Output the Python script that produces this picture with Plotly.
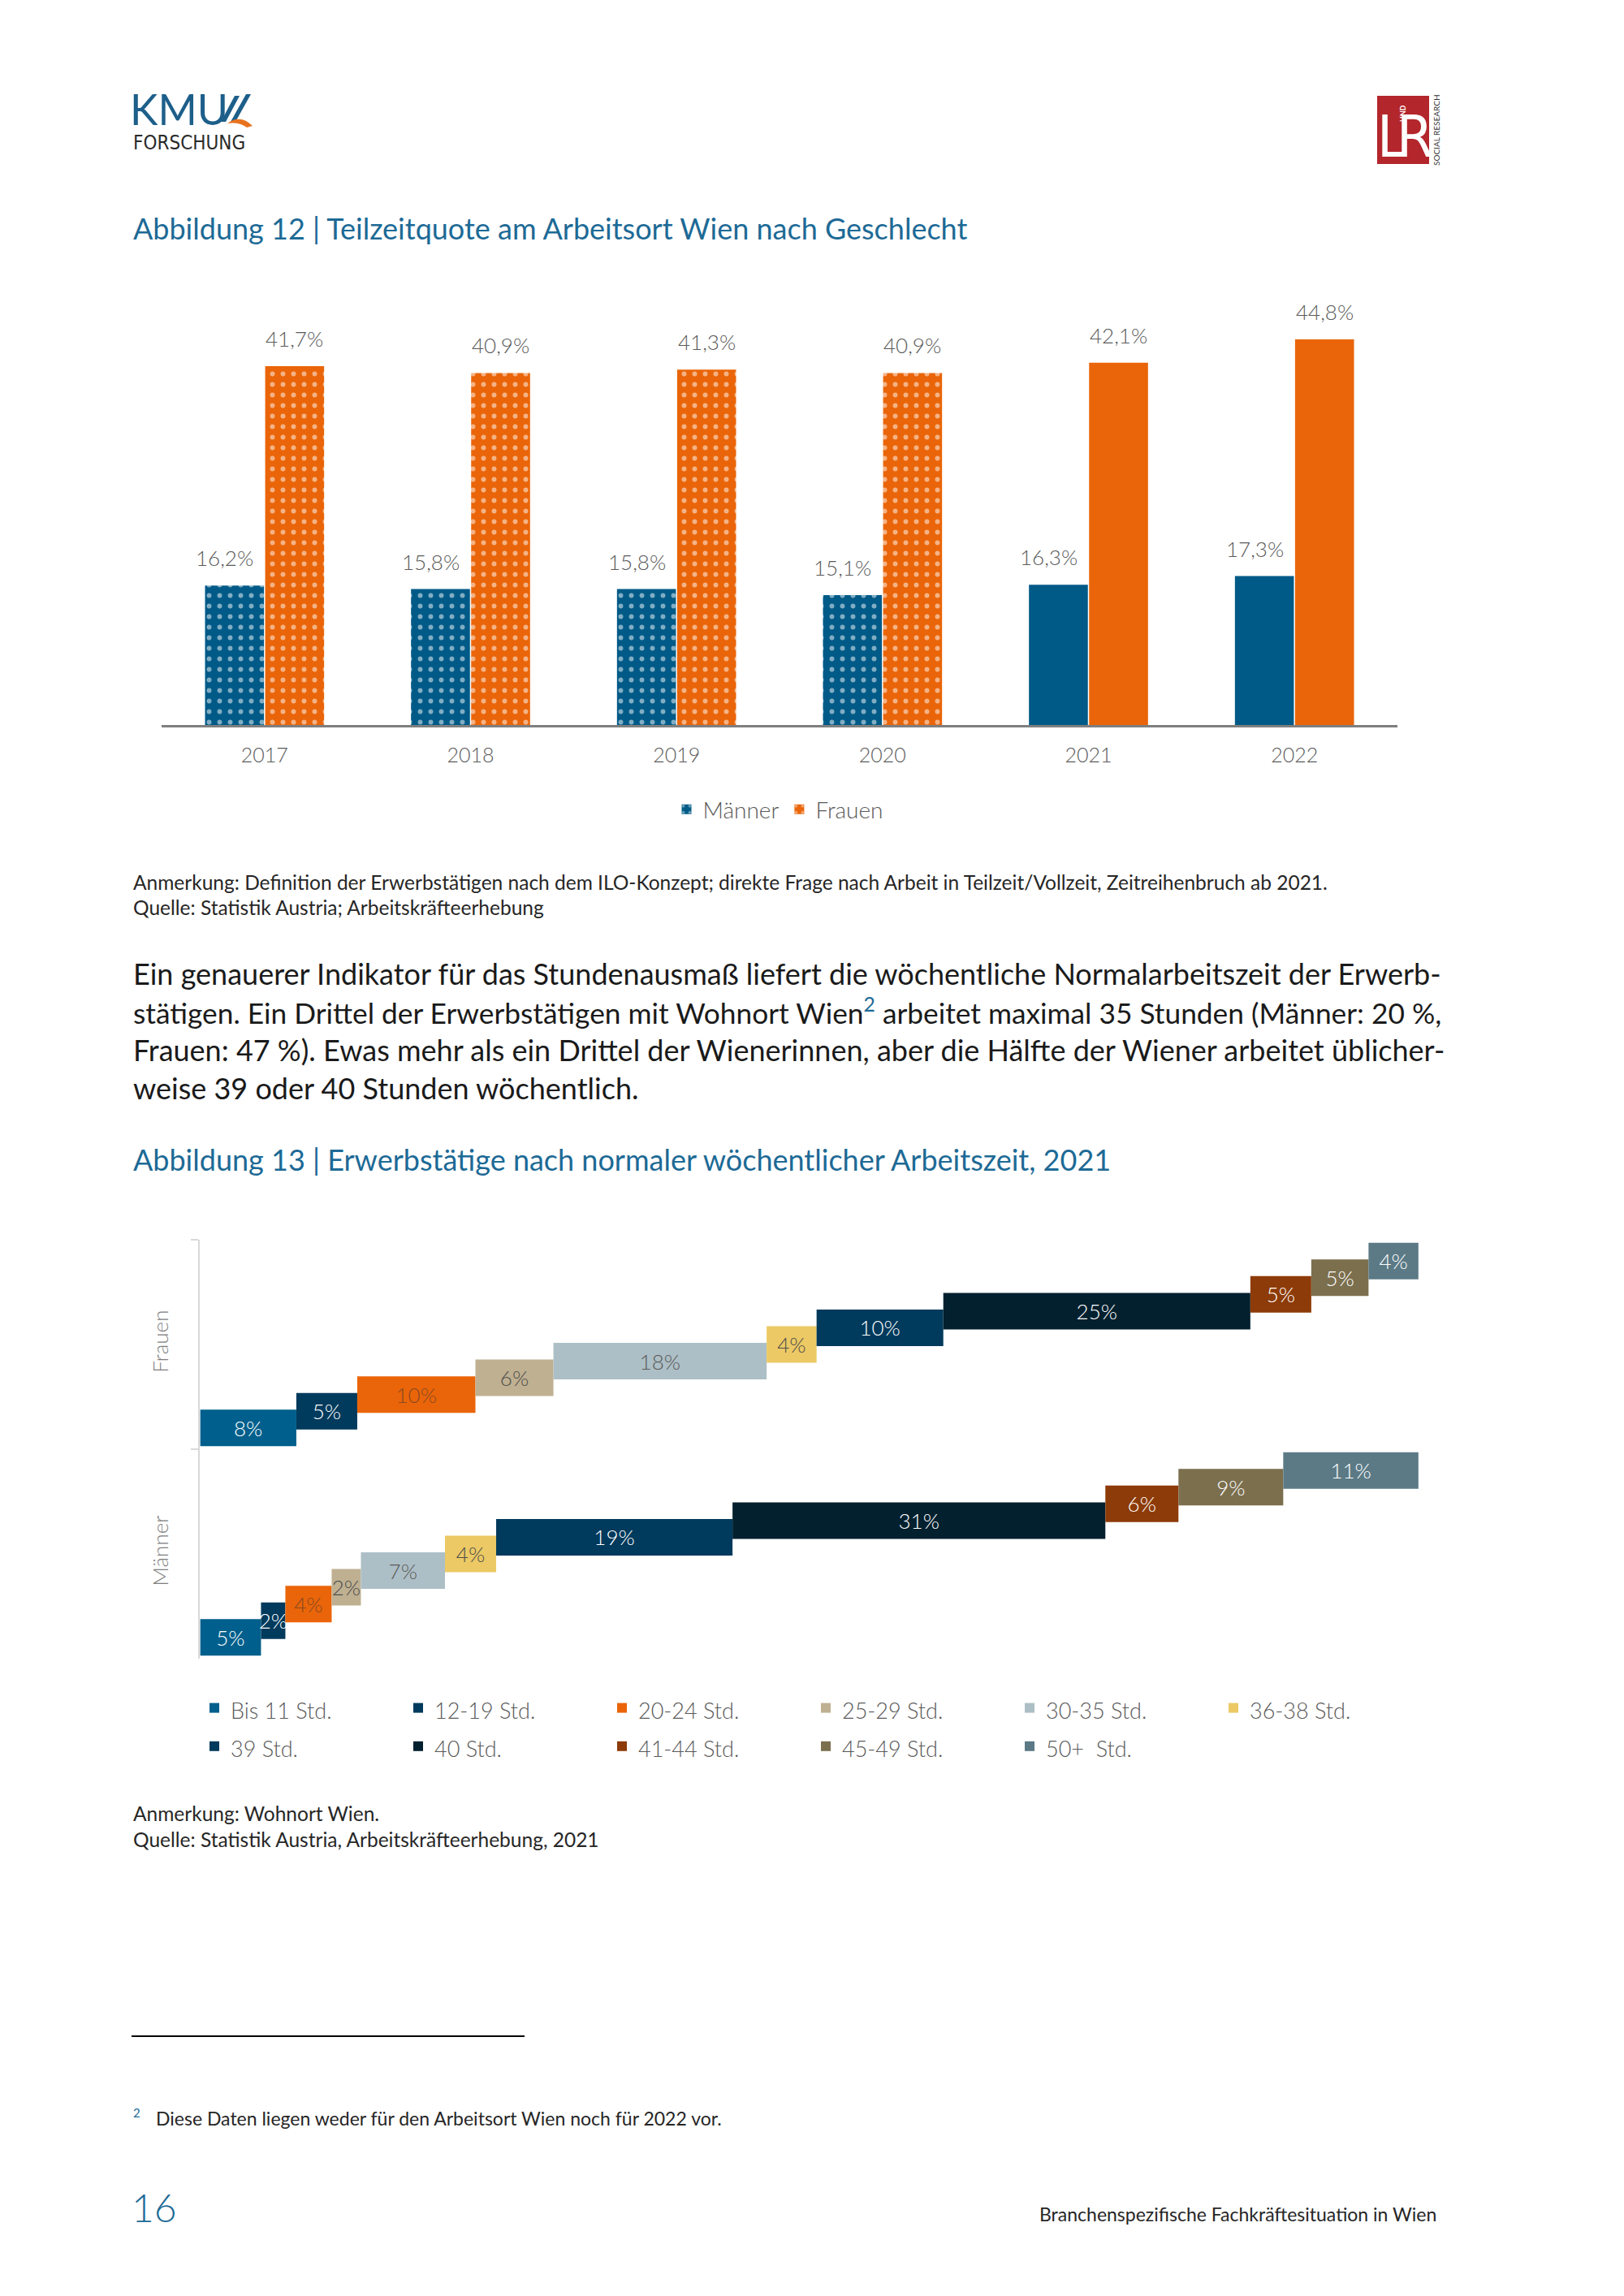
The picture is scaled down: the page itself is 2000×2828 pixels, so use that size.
import numpy as np
import plotly.graph_objects as go

W, H = 2000, 2828
GW = 1750  # plot-area width (right margin keeps the hour legend at 6 columns)
FONT = "Lato"

# ---------------- data: Abbildung 12 ----------------
years = ["2017", "2018", "2019", "2020", "2021", "2022"]
maenner_quote = [16.2, 15.8, 15.8, 15.1, 16.3, 17.3]
frauen_quote = [41.7, 40.9, 41.3, 40.9, 42.1, 44.8]
series_names = ["Männer", "Frauen"]
break_year = 2021  # Zeitreihenbruch ab 2021

# ---------------- data: Abbildung 13 ----------------
groups = ["Männer", "Frauen"]
hour_classes = ["Bis 11 Std.", "12-19 Std.", "20-24 Std.", "25-29 Std.", "30-35 Std.",
                "36-38 Std.", "39 Std.", "40 Std.", "41-44 Std.", "45-49 Std.", "50+  Std."]
frauen_share = [7.9, 5.0, 9.7, 6.4, 17.5, 4.1, 10.4, 25.2, 5.0, 4.7, 4.1]
maenner_share = [5.0, 2.0, 3.8, 2.4, 6.9, 4.2, 19.4, 30.6, 6.0, 8.6, 11.1]

# ---------------- styles ----------------
c_blue = "#005a87"
c_orange = "#ea6509"
hour_colors = ["#005f8c", "#003a5c", "#ea6509", "#bfb091", "#adbfc6", "#ecc964",
               "#003a5c", "#03202f", "#8d3b08", "#7b6f4e", "#5b7a86"]
hour_text_colors = ["white", "white", "#8a4a22", "#4d4d4d", "#595959", "#4d4d4d",
                    "white", "white", "white", "white", "white"]
title_color = "#1d6a96"
gray = "#595959"
DY = 0


def px_x(x):
    return x / GW


def px_y(y):
    return 1 - y / H


annotations = []
shapes = []


def txt(x, y, s, size, color="#262626", weight=400, xanchor="left", family=FONT, **kw):
    annotations.append(dict(x=px_x(x), y=px_y(y + DY), xref="paper", yref="paper", text=s,
                            showarrow=False, xanchor=xanchor, yanchor="middle",
                            font=dict(size=size, color=color, family=family, weight=weight), **kw))


fig = go.Figure()

# ---------------- Abbildung 12 bars ----------------
patt = ["." if int(y) < break_year else "" for y in years]
for name, vals, col in [(series_names[0], maenner_quote, c_blue), (series_names[1], frauen_quote, c_orange)]:
    fig.add_trace(go.Bar(
        x=years, y=vals, name=name, xaxis="x", yaxis="y", legend="legend",
        marker=dict(color=col, line=dict(width=0),
                    pattern=dict(shape=patt, fgcolor="white", size=13, solidity=0.16)),
        hoverinfo="skip"))

for vals, xs in [(maenner_quote, -49), (frauen_quote, 37)]:
    for idx, v in enumerate(vals):
        annotations.append(dict(x=idx, y=v, xref="x", yref="y", text=f"{v:.1f}".replace(".", ",") + "%",
                                showarrow=False, yanchor="middle", yshift=34, xshift=xs,
                                font=dict(size=26, color=gray, family=FONT, weight=300)))

# ---------------- Abbildung 13 bars ----------------
cum_f = np.concatenate([[0], np.cumsum(frauen_share)[:-1]])
cum_m = np.concatenate([[0], np.cumsum(maenner_share)[:-1]])
bar_w = 45 / 258
step = 20.55 / 258
n = len(hour_classes)
for i, name in enumerate(hour_classes):
    vals = [maenner_share[i], frauen_share[i]]
    fig.add_trace(go.Bar(
        y=groups, x=vals, base=[cum_m[i], cum_f[i]], orientation="h",
        name=f"<span style='font-size:27px'>{name}</span>",
        xaxis="x2", yaxis="y2", legend="legend2",
        width=bar_w, offset=(i - (n - 1) / 2) * step - bar_w / 2,
        marker=dict(color=hour_colors[i], line=dict(width=0)),
        text=[f"{v:.0f}%" for v in vals], textposition="inside", insidetextanchor="middle",
        textangle=0, constraintext="none",
        textfont=dict(size=26, color=hour_text_colors[i], family=FONT, weight=300),
        hoverinfo="skip"))

# ---------------- page text ----------------
# logos
txt(158, 134, "KMU", 52, color="#1d5f8a", weight=400)
txt(162, 176, "FORSCHUNG", 24, color="#2b2b2b", weight=400, family="DejaVu Sans Condensed")
shapes.append(dict(type="path", xref="paper", yref="paper",
                   path=f"M {px_x(272)},{px_y(150)} L {px_x(289)},{px_y(118)} L {px_x(295)},{px_y(118)} L {px_x(278)},{px_y(150)} Z",
                   fillcolor="#1d5f8a", line=dict(width=0)))
shapes.append(dict(type="path", xref="paper", yref="paper",
                   path=f"M {px_x(284)},{px_y(150)} L {px_x(303)},{px_y(116)} L {px_x(309)},{px_y(116)} L {px_x(290)},{px_y(150)} Z",
                   fillcolor="#1d5f8a", line=dict(width=0)))
shapes.append(dict(type="path", xref="paper", yref="paper",
                   path=f"M {px_x(280)},{px_y(152)} Q {px_x(296)},{px_y(140)} {px_x(311)},{px_y(155)} L {px_x(304)},{px_y(157)} Q {px_x(294)},{px_y(150)} {px_x(280)},{px_y(152)} Z",
                   fillcolor="#e8731e", line=dict(width=0)))

shapes.append(dict(type="rect", xref="paper", yref="paper", x0=px_x(1696), x1=px_x(1760),
                   y0=px_y(202), y1=px_y(118), fillcolor="#b3262c", line=dict(width=0)))
txt(1714, 168, "L", 72, color="white", weight=400, xanchor="center", family="DejaVu Sans Condensed")
txt(1742, 168, "R", 72, color="white", weight=400, xanchor="center", family="DejaVu Sans Condensed")
txt(1727, 140, "UND", 9, color="white", weight=700, xanchor="center", textangle=-90)
txt(1769, 160, "SOCIAL RESEARCH", 10, color="#333333", weight=400, xanchor="center", textangle=-90)

# titles
txt(162, 281, "Abbildung 12 | Teilzeitquote am Arbeitsort Wien nach Geschlecht", 36, color=title_color)
txt(162, 1428, "Abbildung 13 | Erwerbstätige nach normaler wöchentlicher Arbeitszeit, 2021", 36, color=title_color)

# notes chart 1
txt(162, 1086, "Anmerkung: Definition der Erwerbstätigen nach dem ILO-Konzept; direkte Frage nach Arbeit in Teilzeit/Vollzeit, Zeitreihenbruch ab 2021.", 24.5)
txt(162, 1118, "Quelle: Statistik Austria; Arbeitskräfteerhebung", 24.5)

# body text
body = [
    "Ein genauerer Indikator für das Stundenausmaß liefert die wöchentliche Normalarbeitszeit der Erwerb-",
    "stätigen. Ein Drittel der Erwerbstätigen mit Wohnort Wien<sup><span style='color:#1d6a96'>2</span></sup> arbeitet maximal 35 Stunden (Männer: 20 %,",
    "Frauen: 47 %). Ewas mehr als ein Drittel der Wienerinnen, aber die Hälfte der Wiener arbeitet üblicher-",
    "weise 39 oder 40 Stunden wöchentlich.",
]
body_sizes = [36, 35.3, 36, 36]
for k, line in enumerate(body):
    txt(162, 1199 + 47 * k, line, body_sizes[k], color="#1a1a1a")

# notes chart 2
txt(162, 2233, "Anmerkung: Wohnort Wien.", 24.5)
txt(162, 2265, "Quelle: Statistik Austria, Arbeitskräfteerhebung, 2021", 24.5)

# footnote
shapes.append(dict(type="line", xref="paper", yref="paper", x0=px_x(162), x1=px_x(646),
                   y0=px_y(2508), y1=px_y(2508), line=dict(color="black", width=2)))
txt(162, 2602, "2", 15, color=title_color)
txt(190, 2609, "Diese Daten liegen weder für den Arbeitsort Wien noch für 2022 vor.", 23)

# footer
txt(160, 2718, "16", 48, color=title_color, weight=300)
txt(1771, 2727, "Branchenspezifische Fachkräftesituation in Wien", 23, xanchor="right")

fig.update_layout(
    width=W, height=H, margin=dict(l=0, r=W - GW, t=0, b=0, autoexpand=False),
    paper_bgcolor="white", plot_bgcolor="white",
    barmode="group", bargap=0.416, bargroupgap=0.02,
    font=dict(family=FONT, color=gray),
    xaxis=dict(domain=[px_x(199), px_x(1721)], anchor="y", type="category", range=[-0.5, 5.5],
               showline=True, linecolor="#7f7f7f", linewidth=2.5, ticks="",
               tickfont=dict(size=25, color=gray, family=FONT, weight=300),
               ticklabelstandoff=13, showgrid=False, zeroline=False),
    yaxis=dict(domain=[px_y(893), px_y(363)], anchor="x", range=[0, 50], visible=False),
    xaxis2=dict(domain=[px_x(246.4), px_x(1746.9)], anchor="y2", range=[0, 100], visible=False),
    yaxis2=dict(domain=[px_y(2043), px_y(1527)], anchor="x2", type="category",
                categoryorder="array", categoryarray=groups, range=[-0.5, 1.5],
                showline=True, linecolor="#d9d9d9", linewidth=2, ticks="outside",
                tickson="boundaries", ticklen=9, tickcolor="#d9d9d9", tickwidth=2,
                tickangle=-90, tickfont=dict(size=26, color="#7f7f7f", family=FONT, weight=300),
                ticklabelstandoff=27, showgrid=False, zeroline=False),
    legend=dict(orientation="h", x=px_x(959), xanchor="center", y=px_y(997), yanchor="middle",
                font=dict(size=28, color=gray, family=FONT, weight=300), bgcolor="rgba(0,0,0,0)"),
    legend2=dict(orientation="h", x=px_x(244), xanchor="left", y=px_y(2075), yanchor="top",
                 entrywidth=206, entrywidthmode="pixels", traceorder="normal",
                 font=dict(size=34, color=gray, family=FONT, weight=300), bgcolor="rgba(0,0,0,0)"),
    annotations=annotations, shapes=shapes, showlegend=True,
)

fig.write_html("out.html", config={"displayModeBar": False},
               post_script="document.body.style.margin='0';")
